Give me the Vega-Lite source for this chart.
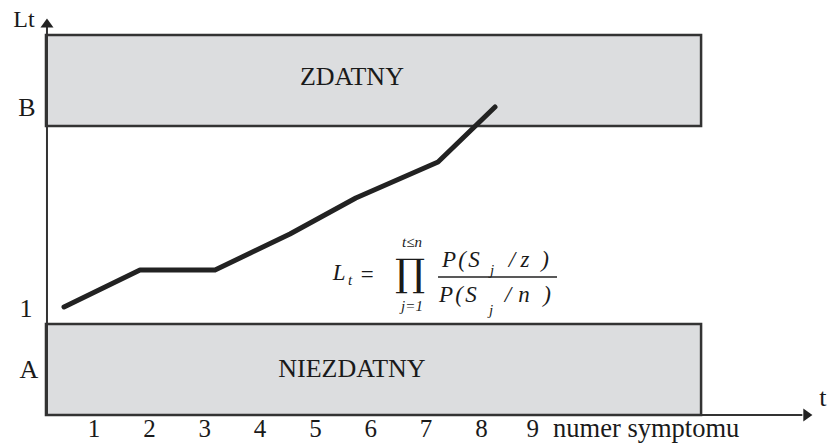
{
  "$schema": "https://vega.github.io/schema/vega-lite/v6.json",
  "autosize": {"type": "fit", "contains": "padding"},
  "width": 830,
  "height": 446,
  "padding": 0,
  "background": "white",
  "config": {"view": {"stroke": null}},
  "datasets": {
    "boxes": [
      {"t1": 0.131, "t2": 11.97, "l1": 28.9, "l2": 38.0, "state": "ZDATNY", "tc": 5.66, "lc": 33.8},
      {"t1": 0.131, "t2": 11.97, "l1": 0.0, "l2": 9.1, "state": "NIEZDATNY", "tc": 5.66, "lc": 4.6}
    ],
    "axes": [
      {"t1": 0.149, "l1": 0, "t2": 0.149, "l2": 39.3},
      {"t1": 0.149, "l1": 0, "t2": 13.8, "l2": 0}
    ],
    "curve": [
      {"t": 0.457, "L": 10.8},
      {"t": 1.83, "L": 14.5},
      {"t": 3.186, "L": 14.5},
      {"t": 4.54, "L": 18.1},
      {"t": 5.73, "L": 21.7},
      {"t": 7.216, "L": 25.3},
      {"t": 8.246, "L": 30.8}
    ],
    "ticks": [
      {"t": 1, "label": "1"}, {"t": 2, "label": "2"}, {"t": 3, "label": "3"},
      {"t": 4, "label": "4"}, {"t": 5, "label": "5"}, {"t": 6, "label": "6"},
      {"t": 7, "label": "7"}, {"t": 8, "label": "8"}, {"t": 8.93, "label": "9"}
    ],
    "ylabels": [
      {"t": -0.212, "L": 30.7, "label": "B"},
      {"t": -0.23, "L": 10.6, "label": "1"},
      {"t": -0.176, "L": 4.5, "label": "A"},
      {"t": 14.17, "L": 1.7, "label": "t"}
    ],
    "formulaBig": [
      {"t": 5.427, "L": 14.2, "s": "L"},
      {"t": 5.933, "L": 14.0, "s": "="},
      {"t": 7.415, "L": 15.5, "s": "P"},
      {"t": 7.65, "L": 15.5, "s": "("},
      {"t": 7.867, "L": 15.5, "s": "S"},
      {"t": 8.553, "L": 15.5, "s": "/"},
      {"t": 8.789, "L": 15.5, "s": "z"},
      {"t": 9.15, "L": 15.5, "s": ")"},
      {"t": 7.36, "L": 12.0, "s": "P"},
      {"t": 7.596, "L": 12.0, "s": "("},
      {"t": 7.813, "L": 12.0, "s": "S"},
      {"t": 8.481, "L": 12.0, "s": "/"},
      {"t": 8.77, "L": 12.0, "s": "n"},
      {"t": 9.186, "L": 12.0, "s": ")"}
    ],
    "formulaSmall": [
      {"t": 5.626, "L": 13.5, "s": "t"},
      {"t": 8.192, "L": 14.5, "s": "j"},
      {"t": 8.174, "L": 10.5, "s": "j"},
      {"t": 6.746, "L": 17.3, "s": "t≤n"},
      {"t": 6.746, "L": 10.9, "s": "j=1"}
    ]
  },
  "layer": [
    {
      "data": {"name": "boxes"},
      "mark": {"type": "rect", "fill": "#dcdddf", "stroke": "#333333", "strokeWidth": 2.5},
      "encoding": {
        "x": {"field": "t1", "type": "quantitative", "scale": {"domain": [-0.7, 14.3], "nice": false, "zero": false}, "axis": null},
        "x2": {"field": "t2"},
        "y": {"field": "l1", "type": "quantitative", "scale": {"domain": [-3.1, 41.5], "nice": false, "zero": false}, "axis": null},
        "y2": {"field": "l2"}
      }
    },
    {
      "data": {"name": "boxes"},
      "mark": {"type": "text", "font": "Liberation Serif", "fontSize": 26, "color": "#1a1a1a", "align": "center", "baseline": "middle"},
      "encoding": {
        "x": {"field": "tc", "type": "quantitative"},
        "y": {"field": "lc", "type": "quantitative"},
        "text": {"field": "state"}
      }
    },
    {
      "data": {"name": "axes"},
      "mark": {"type": "rule", "color": "#333333", "strokeWidth": 2},
      "encoding": {
        "x": {"field": "t1", "type": "quantitative"},
        "x2": {"field": "t2"},
        "y": {"field": "l1", "type": "quantitative"},
        "y2": {"field": "l2"}
      }
    },
    {
      "data": {"values": [{"t": 0.149, "L": 39.2}]},
      "mark": {"type": "point", "shape": "M-1,0.7L0,-0.7L1,0.7Z", "size": 169, "filled": true, "color": "#222222", "opacity": 1},
      "encoding": {
        "x": {"field": "t", "type": "quantitative"},
        "y": {"field": "L", "type": "quantitative"}
      }
    },
    {
      "data": {"values": [{"t": 13.9, "L": 0}]},
      "mark": {"type": "point", "shape": "M-0.7,-1L0.7,0L-0.7,1Z", "size": 169, "filled": true, "color": "#222222", "opacity": 1},
      "encoding": {
        "x": {"field": "t", "type": "quantitative"},
        "y": {"field": "L", "type": "quantitative"}
      }
    },
    {
      "data": {"name": "curve"},
      "mark": {"type": "line", "color": "#222222", "strokeWidth": 5, "strokeCap": "round", "strokeJoin": "round"},
      "encoding": {
        "x": {"field": "t", "type": "quantitative"},
        "y": {"field": "L", "type": "quantitative"}
      }
    },
    {
      "data": {"values": [{"t1": 7.216, "t2": 9.367, "L": 13.8}]},
      "mark": {"type": "rule", "color": "#222222", "strokeWidth": 1.5},
      "encoding": {
        "x": {"field": "t1", "type": "quantitative"},
        "x2": {"field": "t2"},
        "y": {"field": "L", "type": "quantitative"}
      }
    },
    {
      "data": {"name": "ticks"},
      "mark": {"type": "text", "font": "Liberation Serif", "fontSize": 25, "color": "#1a1a1a", "align": "center", "baseline": "middle"},
      "encoding": {
        "x": {"field": "t", "type": "quantitative"},
        "y": {"datum": -1.4, "type": "quantitative"},
        "text": {"field": "label"}
      }
    },
    {
      "data": {"values": [{"t": 9.295, "label": "numer symptomu"}]},
      "mark": {"type": "text", "font": "Liberation Serif", "fontSize": 26.5, "color": "#1a1a1a", "align": "left", "baseline": "middle"},
      "encoding": {
        "x": {"field": "t", "type": "quantitative"},
        "y": {"datum": -1.4, "type": "quantitative"},
        "text": {"field": "label"}
      }
    },
    {
      "data": {"name": "ylabels"},
      "mark": {"type": "text", "font": "Liberation Serif", "fontSize": 26, "color": "#1a1a1a", "align": "center", "baseline": "middle"},
      "encoding": {
        "x": {"field": "t", "type": "quantitative"},
        "y": {"field": "L", "type": "quantitative"},
        "text": {"field": "label"}
      }
    },
    {
      "data": {"values": [{"t": -0.266, "L": 39.55, "label": "Lt"}]},
      "mark": {"type": "text", "font": "Liberation Serif", "fontSize": 24, "color": "#1a1a1a", "align": "center", "baseline": "middle"},
      "encoding": {
        "x": {"field": "t", "type": "quantitative"},
        "y": {"field": "L", "type": "quantitative"},
        "text": {"field": "label"}
      }
    },
    {
      "data": {"name": "formulaBig"},
      "mark": {"type": "text", "font": "Liberation Serif", "fontStyle": "italic", "fontSize": 23, "color": "#1a1a1a", "align": "center", "baseline": "middle"},
      "encoding": {
        "x": {"field": "t", "type": "quantitative"},
        "y": {"field": "L", "type": "quantitative"},
        "text": {"field": "s"}
      }
    },
    {
      "data": {"name": "formulaSmall"},
      "mark": {"type": "text", "font": "Liberation Serif", "fontStyle": "italic", "fontSize": 15, "color": "#1a1a1a", "align": "center", "baseline": "middle"},
      "encoding": {
        "x": {"field": "t", "type": "quantitative"},
        "y": {"field": "L", "type": "quantitative"},
        "text": {"field": "s"}
      }
    },
    {
      "data": {"values": [{"t": 6.71, "L": 14.0, "s": "∏"}]},
      "mark": {"type": "text", "font": "DejaVu Serif", "fontSize": 38, "color": "#1a1a1a", "align": "center", "baseline": "middle"},
      "encoding": {
        "x": {"field": "t", "type": "quantitative"},
        "y": {"field": "L", "type": "quantitative"},
        "text": {"field": "s"}
      }
    }
  ]
}
